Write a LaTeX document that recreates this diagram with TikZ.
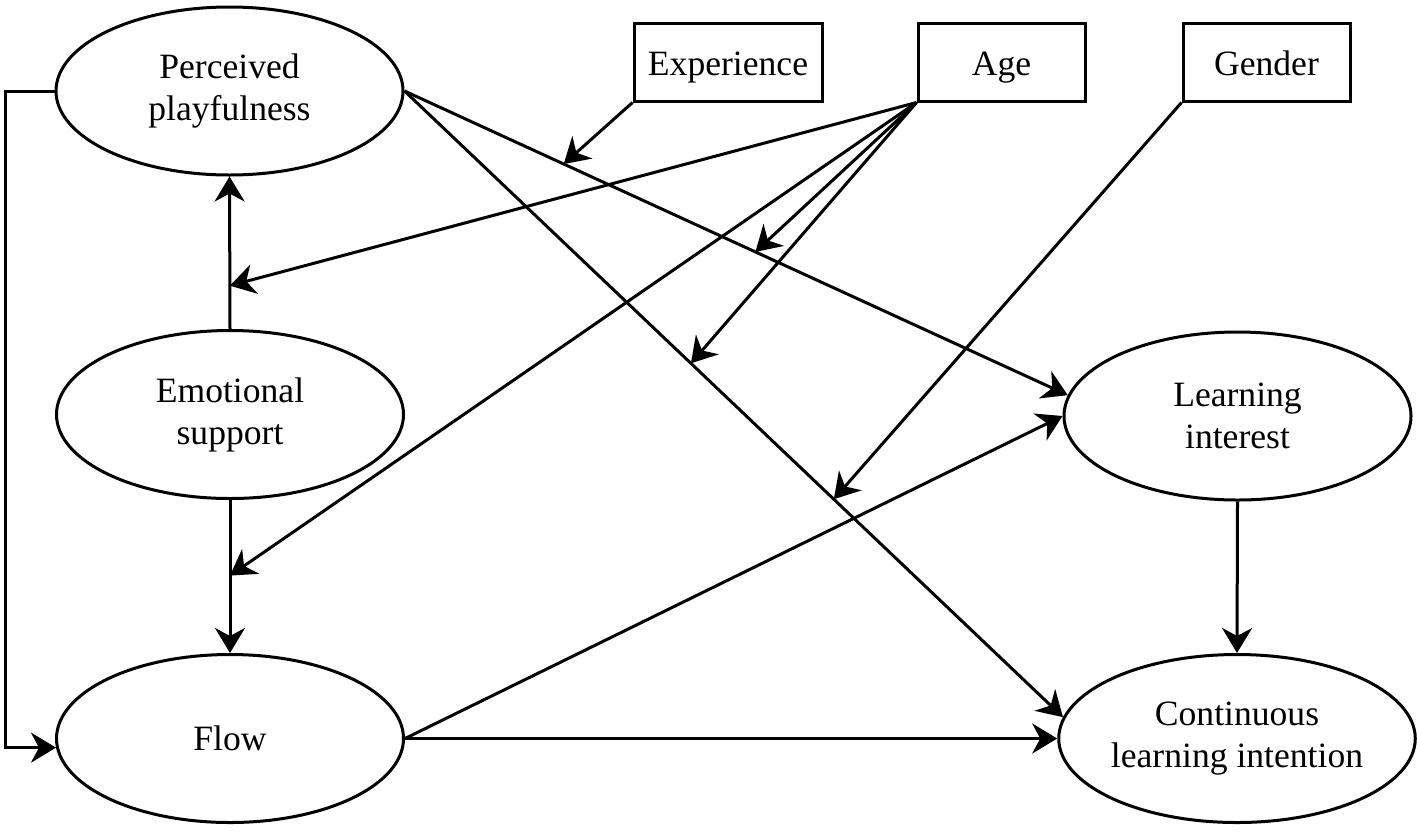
\documentclass[tikz,border=0pt]{standalone}
\usepackage{fontspec}
\setmainfont{Liberation Serif}
\usetikzlibrary{shapes.geometric,arrows.meta}
\begin{document}
\begin{tikzpicture}[x=0.5pt,y=-0.5pt,
  every node/.style={font=\fontsize{17.8}{21}\selectfont, align=center, line width=1.5pt},
  latent/.style={draw, ellipse, minimum width=173.5pt, minimum height=84pt, inner sep=0pt},
  observed/.style={draw, rectangle, minimum height=39pt, inner sep=0pt, text height=15pt, text depth=2pt},
  conn/.style={line width=1.5pt, -{Stealth[length=12.5pt,width=15pt,inset=4pt]}},
]
\fill[white] (0,0) rectangle (1417,831);
\useasboundingbox (0,0) rectangle (1417,831);

\node[latent] (PP) at (229.5,91) {Perceived\\playfulness};
\node[latent] (ES) at (230,414.5) {Emotional\\support};
\node[latent] (FL) at (230,738.5) {Flow};
\node[latent] (LI) at (1237.5,416) {Learning\\interest};
\node[latent] (CLI) at (1237,738.5) {Continuous\\learning intention};

\node[observed, minimum width=94pt] (EXP) at (728,62) {Experience};
\node[observed, minimum width=83.5pt] (AGE) at (1001.5,62) {Age};
\node[observed, minimum width=83.5pt] (GEN) at (1266.5,62) {Gender};

% structural paths
\draw[conn] (PP.west) -- ++(-49,0) |- (FL.183);
\draw[conn] (ES.north) -- coordinate[pos=0.284] (mA) (PP.south);
\draw[conn] (ES.south) -- coordinate[pos=0.494] (mB) (FL.north);
\draw[conn] (PP.east) -- coordinate[pos=0.24] (mC) coordinate[pos=0.529] (mD) (LI.173);
\draw[conn] (PP.east) -- coordinate[pos=0.435] (mE) coordinate[pos=0.652] (mF) (CLI.173);
\draw[conn] (FL.east) -- (LI.west);
\draw[conn] (FL.east) -- (CLI.west);
\draw[conn] (LI.south) -- (CLI.north);

% moderators
\draw[conn] (EXP.south west) -- (mC);
\draw[conn] (AGE.south west) -- (mA);
\draw[conn] (AGE.south west) -- (mB);
\draw[conn] (AGE.south west) -- (mD);
\draw[conn] (AGE.south west) -- (mE);
\draw[conn] (GEN.south west) -- (mF);
\end{tikzpicture}
\end{document}
